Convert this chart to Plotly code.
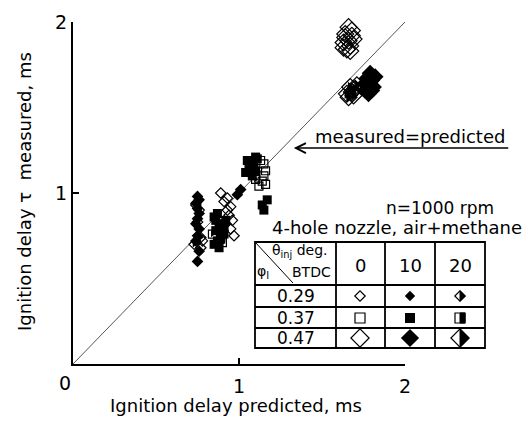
import plotly.graph_objects as go

W, H = 532, 421
FONT = "DejaVu Sans, Verdana, sans-serif"

# ---- data (ms) ----
# phi=0.29, theta=0 (open small diamond)
x_029_0 = [0.77, 0.78, 0.89, 0.91, 0.93, 0.95, 0.94, 0.96, 0.92, 0.95, 0.97, 0.93]
y_029_0 = [0.68, 0.72, 1.00, 0.95, 0.97, 0.92, 0.87, 0.84, 0.82, 0.79, 0.75, 0.90]
# phi=0.29, theta=10 (filled small diamond)
x_029_10 = [0.75, 0.76, 0.74, 0.75, 0.76, 0.74, 0.75, 0.76, 0.75, 0.74, 0.76, 0.75, 0.99, 1.01]
y_029_10 = [0.60, 0.66, 0.72, 0.75, 0.79, 0.82, 0.85, 0.88, 0.91, 0.94, 0.96, 0.98, 0.99, 1.02]
# phi=0.29, theta=20 (half small diamond)
x_029_20 = [0.73, 0.77, 0.75, 0.76, 0.74]
y_029_20 = [0.70, 0.74, 0.83, 0.90, 0.93]
# phi=0.37, theta=0 (open square)
x_037_0 = [1.12, 1.14, 1.15, 1.16, 1.15, 1.13, 1.16]
y_037_0 = [1.04, 1.07, 1.10, 1.13, 1.17, 1.19, 1.05]
# phi=0.37, theta=10 (filled square)
x_037_10 = [0.85, 0.87, 0.89, 0.91, 0.86, 0.88, 0.90, 0.92, 0.85, 0.87, 0.89, 0.91, 0.86, 0.88,
            1.04, 1.06, 1.08, 1.10, 1.05, 1.07, 1.09, 1.11, 1.08, 1.10, 1.14, 1.17, 1.15]
y_037_10 = [0.70, 0.72, 0.74, 0.76, 0.78, 0.80, 0.82, 0.84, 0.86, 0.88, 0.73, 0.80, 0.84, 0.68,
            1.12, 1.15, 1.18, 1.21, 1.19, 1.13, 1.16, 1.20, 1.10, 1.13, 0.93, 0.96, 0.90]
# phi=0.37, theta=20 (half square)
x_037_20 = [0.84, 0.90, 1.10]
y_037_20 = [0.76, 0.71, 1.08]
# phi=0.47, theta=0 (open large diamond)
x_047_0 = [1.63, 1.64, 1.66, 1.68, 1.69, 1.67, 1.65, 1.64, 1.66, 1.68, 1.63, 1.67]
y_047_0 = [1.88, 1.93, 1.97, 1.95, 1.90, 1.86, 1.84, 1.91, 1.89, 1.92, 1.85, 1.83]
# phi=0.47, theta=10 (filled large diamond)
x_047_10 = [1.76, 1.78, 1.80, 1.82, 1.77, 1.79, 1.81, 1.78, 1.80, 1.76]
y_047_10 = [1.60, 1.63, 1.66, 1.68, 1.67, 1.70, 1.62, 1.58, 1.60, 1.64]
# phi=0.47, theta=20 (half large diamond)
x_047_20 = [1.66, 1.68, 1.70, 1.67, 1.69, 1.71, 1.65]
y_047_20 = [1.56, 1.59, 1.61, 1.62, 1.57, 1.63, 1.58]

diag = [0, 2]
tick_vals = [1, 2]
tick_text = ["1", "2"]
phi_labels = ["0.29", "0.37", "0.47"]
theta_labels = ["0", "10", "20"]

fig = go.Figure()

fig.add_trace(go.Scatter(x=diag, y=diag, mode="lines",
                         line=dict(color="#555", width=1), hoverinfo="skip"))


def open_tr(x, y, sym, size):
    fig.add_trace(go.Scatter(x=x, y=y, mode="markers", cliponaxis=False,
                             marker=dict(symbol=sym + "-open", size=size, color="black",
                                         line=dict(width=1.2, color="black"))))


def fill_tr(x, y, sym, size):
    fig.add_trace(go.Scatter(x=x, y=y, mode="markers", cliponaxis=False,
                             marker=dict(symbol=sym, size=size, color="black",
                                         line=dict(width=0))))


def half_tr(x, y, sym, size):
    open_tr(x, y, sym, size)
    fig.add_trace(go.Scatter(x=x, y=y, mode="markers", cliponaxis=False,
                             marker=dict(symbol="triangle-right", size=size * 0.7, color="black",
                                         line=dict(width=0))))


open_tr(x_029_0, y_029_0, "diamond", 8)
fill_tr(x_029_10, y_029_10, "diamond", 9)
half_tr(x_029_20, y_029_20, "diamond", 8)
open_tr(x_037_0, y_037_0, "square", 8)
fill_tr(x_037_10, y_037_10, "square", 9)
half_tr(x_037_20, y_037_20, "square", 8)
open_tr(x_047_0, y_047_0, "diamond", 13)
fill_tr(x_047_10, y_047_10, "diamond", 13)
half_tr(x_047_20, y_047_20, "diamond", 13)

# ---- table on pixel overlay axes ----
tl, tr_, tt, tb = 255, 485, 242, 348
row_lines = [285, 307, 328]
col_lines = [336, 385, 435]
col_c = [360, 410, 460]
row_c = [296, 318, 338]
shapes = []
lw = 1.8
shapes.append(dict(type="rect", xref="x2", yref="y2", x0=tl, x1=tr_, y0=tt, y1=tb,
                   line=dict(color="black", width=lw)))
for r in row_lines:
    shapes.append(dict(type="line", xref="x2", yref="y2", x0=tl, x1=tr_, y0=r, y1=r,
                       line=dict(color="black", width=lw)))
for c in col_lines:
    shapes.append(dict(type="line", xref="x2", yref="y2", x0=c, x1=c, y0=tt, y1=tb,
                       line=dict(color="black", width=lw)))
shapes.append(dict(type="line", xref="x2", yref="y2", x0=tl, x1=293, y0=tt, y1=283,
                   line=dict(color="black", width=1)))

# legend glyphs
leg_sym = ["diamond", "square", "diamond"]
leg_size = [8, 10, 14]
for i in range(3):
    cy = row_c[i]
    s = leg_size[i]
    fig.add_trace(go.Scatter(x=[col_c[0]], y=[cy], xaxis="x2", yaxis="y2", mode="markers",
                             marker=dict(symbol=leg_sym[i] + "-open", size=s, color="black",
                                         line=dict(width=1.2, color="black"))))
    fig.add_trace(go.Scatter(x=[col_c[1]], y=[cy], xaxis="x2", yaxis="y2", mode="markers",
                             marker=dict(symbol=leg_sym[i], size=s, color="black", line=dict(width=0))))
    fig.add_trace(go.Scatter(x=[col_c[2]], y=[cy], xaxis="x2", yaxis="y2", mode="markers",
                             marker=dict(symbol=leg_sym[i] + "-open", size=s, color="black",
                                         line=dict(width=1.2, color="black"))))
    cx = col_c[2]
    if leg_sym[i] == "diamond":
        h = s * 1.3 / 2
        path = f"M {cx},{cy - h} L {cx + h},{cy} L {cx},{cy + h} Z"
    else:
        h = s / 2
        path = f"M {cx},{cy - h} L {cx + h},{cy - h} L {cx + h},{cy + h} L {cx},{cy + h} Z"
    shapes.append(dict(type="path", xref="x2", yref="y2", path=path,
                       fillcolor="black", line=dict(color="black", width=1)))

annotations = []


def txt(x, y, t, size=17, xanchor="center", textangle=0):
    annotations.append(dict(x=x, y=y, xref="x2", yref="y2", text=t, showarrow=False,
                            xanchor=xanchor, yanchor="middle", textangle=textangle,
                            font=dict(family=FONT, size=size, color="black")))


for c, t in zip(col_c, theta_labels):
    txt(c, 265, t, 18)
for r, t in zip(row_c, phi_labels):
    txt(296, r, t, 17)
txt(270, 251, "θ<sub>inj</sub> deg.", 14, "left")
txt(290, 272, "BTDC", 14, "left")
txt(255, 272, "φ<sub>I</sub>", 14, "left")

txt(440, 208, "n=1000 rpm", 17)
txt(397, 227, "4-hole nozzle, air+methane", 18)
txt(410, 136, "measured=predicted", 18)
txt(236, 405, "Ignition delay predicted, ms", 18)
txt(24, 192, "Ignition delay τ  measured, ms", 18, textangle=-90)
txt(65, 383, "0", 19)

# arrow (tail offset in pixels)
annotations.append(dict(x=1.33, y=1.263, xref="x", yref="y", text="", showarrow=True,
                        ax=216, ay=0, axref="pixel", ayref="pixel",
                        arrowhead=5, arrowsize=1.4, arrowwidth=1.4, arrowcolor="black"))

ax_common = dict(showgrid=False, zeroline=False, showline=True, linewidth=2, linecolor="black",
                 ticks="inside", ticklen=6, tickwidth=2, tickcolor="black",
                 tickvals=tick_vals, ticktext=tick_text, range=[0, 2], automargin=False,
                 tickfont=dict(family=FONT, size=19, color="black"))

fig.update_layout(
    width=W, height=H, margin=dict(l=0, r=0, t=0, b=0, pad=0, autoexpand=False),
    paper_bgcolor="white", plot_bgcolor="rgba(0,0,0,0)",
    showlegend=False,
    xaxis=dict(domain=[73 / W, 405 / W], anchor="y", ticklabelstandoff=4, **ax_common),
    yaxis=dict(domain=[(H - 364) / H, (H - 22) / H], anchor="x", ticklabelstandoff=0, **ax_common),
    xaxis2=dict(domain=[0, 1], range=[0, W], anchor="y2", visible=False, fixedrange=True),
    yaxis2=dict(domain=[0, 1], range=[H, 0], anchor="x2", visible=False, fixedrange=True),
    shapes=shapes, annotations=annotations,
)

fig.write_html("out.html")
